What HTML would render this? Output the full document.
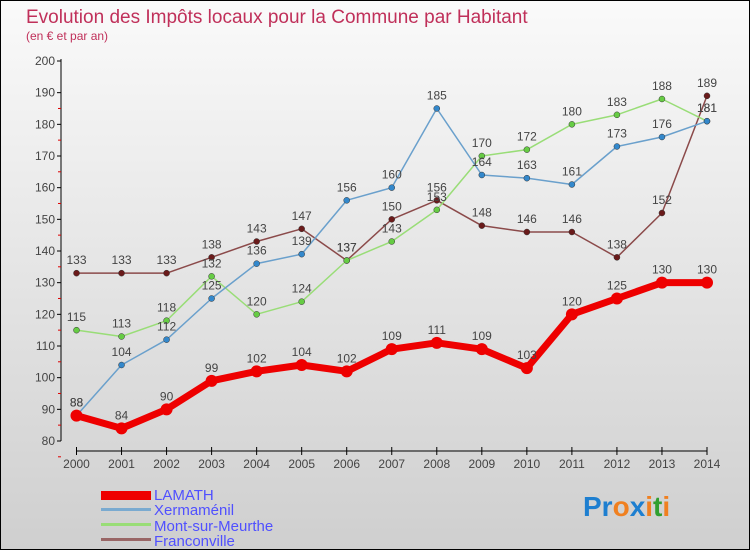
<!DOCTYPE html>
<html><head><meta charset="utf-8"><style>
body{margin:0}
#c{width:750px;height:550px;position:relative;box-sizing:border-box;border:1px solid #000;background:linear-gradient(#fafafa,#cfcfcf);font-family:"Liberation Sans",sans-serif;overflow:hidden}
</style></head><body>
<div id="c">
<svg id="s" width="750" height="550" style="position:absolute;left:0;top:0">
<text x="25" y="22" font-size="19" fill="#c0305a">Evolution des Impôts locaux pour la Commune par Habitant</text>
<text x="25" y="39" font-size="12" fill="#c0305a">(en € et par an)</text>
<g id="axes"></g><g id="series"></g>
<g>
<rect x="100" y="490" width="50" height="9" fill="#ee0000"/>
<text x="153" y="499" font-size="15" fill="#5050ff">LAMATH</text>
<rect x="100" y="507" width="50" height="3" fill="#7aaad0"/>
<text x="153" y="514" font-size="15" fill="#5050ff">Xermaménil</text>
<rect x="100" y="522" width="50" height="3" fill="#99dd77"/>
<text x="153" y="530" font-size="15" fill="#5050ff">Mont-sur-Meurthe</text>
<rect x="100" y="537" width="50" height="3" fill="#996666"/>
<text x="153" y="545" font-size="15" fill="#5050ff">Franconville</text>
</g>
<text x="582" y="515" font-size="28" font-weight="bold"><tspan fill="#1e7fd0">Pr</tspan><tspan fill="#f08020">o</tspan><tspan fill="#1e7fd0">x</tspan><tspan fill="#f08020">i</tspan><tspan fill="#30a030">t</tspan><tspan fill="#f08020">i</tspan></text>
</svg>
</div>
<script>
const years=[2000,2001,2002,2003,2004,2005,2006,2007,2008,2009,2010,2011,2012,2013,2014];
const yTicks=[80,90,100,110,120,130,140,150,160,170,180,190,200];
const lamath=[88,84,90,99,102,104,102,109,111,109,103,120,125,130,130];
const xermamenil=[88,104,112,125,136,139,156,160,185,164,163,161,173,176,181];
const montSurMeurthe=[115,113,118,132,120,124,137,143,153,170,172,180,183,188,181];
const franconville=[133,133,133,138,143,147,137,150,156,148,146,146,138,152,189];
const NS="http://www.w3.org/2000/svg";
const xs=i=>75.5+i*(706-75.5)/(years.length-1);
const ys=v=>440-(v-80)*(380/120);
function mk(t,a,p){const e=document.createElementNS(NS,t);for(const k in a)e.setAttribute(k,a[k]);p.appendChild(e);return e;}
const ax=document.getElementById('axes');
let l=mk('line',{x1:60,y1:58,x2:60,y2:440,stroke:'#000'},ax);


l=mk('line',{x1:75,y1:450,x2:706,y2:450,stroke:'#000'},ax);


yTicks.forEach(v=>{const y=ys(v);
 mk('line',{x1:56,y1:y,x2:60,y2:y,stroke:'#000'},ax);
 if(v<200)mk('line',{x1:57,y1:y+15.8,x2:60,y2:y+15.8,stroke:'#d00'},ax);
 const t=mk('text',{x:54,y:y+4,'font-size':12,fill:'#444','text-anchor':'end'},ax);t.textContent=v;
 
 });
years.forEach((yr,i)=>{const x=xs(i);
 mk('line',{x1:x,y1:446,x2:x,y2:454,stroke:'#000'},ax);
 const t=mk('text',{x:x,y:467,'font-size':12,fill:'#444','text-anchor':'middle'},ax);t.textContent=yr;
 
 });
const sg=document.getElementById('series');
function series(d,name,col,w,r,dot,lab){
 const g=mk('g',{},sg);
 
 
 const p=mk('polyline',{points:d.map((v,i)=>xs(i)+','+ys(v)).join(' '),fill:'none',stroke:col,'stroke-width':w,'stroke-linejoin':'round'},g);
 
 
 d.forEach((v,i)=>{const c=mk('circle',{cx:xs(i),cy:ys(v),r:r,fill:dot,stroke:'#333','stroke-width':r>4?0:0.5},g);
  
  
  const t=mk('text',{x:xs(i),y:ys(v)-9,'font-size':12,fill:'#444','text-anchor':'middle'},g);t.textContent=v;
  
  });
}
series(franconville,'franconville','#8b4a4a',1.5,3,'#6a1a1a');
series(montSurMeurthe,'mont-sur-meurthe','#99dd77',1.5,3,'#66cc44');
series(xermamenil,'xermamenil','#6aa0cc',1.5,3,'#3388cc');
series(lamath,'lamath','#ee0000',7,6,'#ee0000');
</script>
</body></html>
